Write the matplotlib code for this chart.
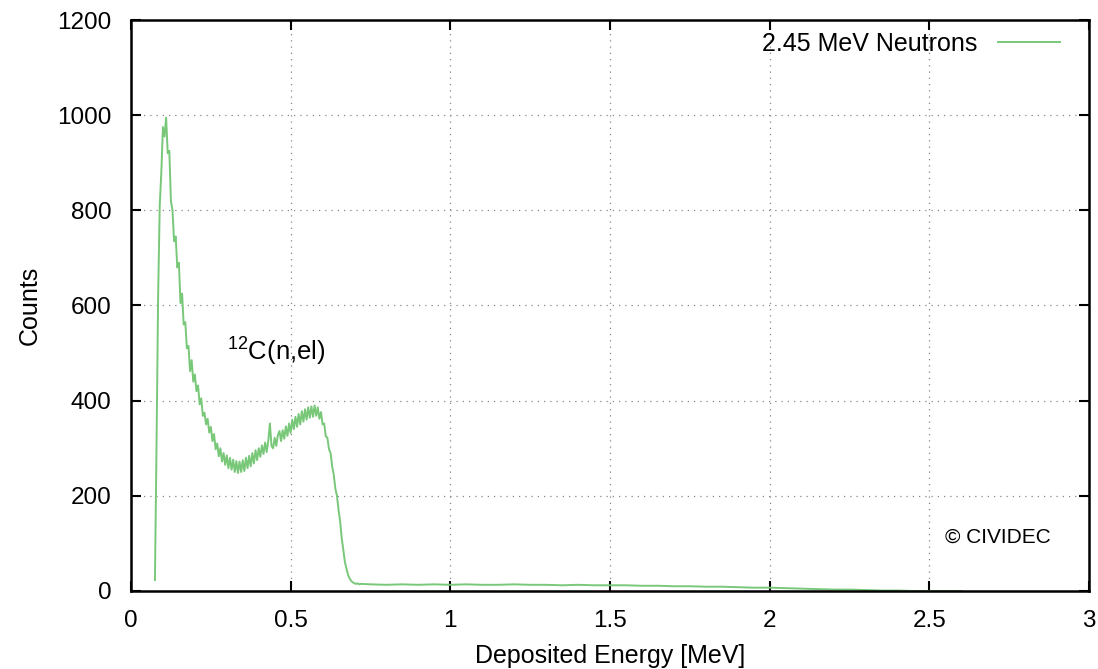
import numpy as np
import matplotlib
matplotlib.use("Agg")
import matplotlib.pyplot as plt

# counts per 0.005 MeV bin, starting at 0.075 MeV
counts_main = [
    23, 310, 620, 810, 880, 975, 955, 995, 920, 925,
    820, 800, 735, 745, 680, 690, 605, 625, 560, 565,
    510, 515, 462, 485, 440, 455, 420, 432, 392, 405,
    368, 375, 350, 362, 333, 345, 315, 330, 298, 310,
    283, 300, 272, 290, 265, 285, 258, 280, 255, 276,
    250, 273, 248, 272, 250, 275, 252, 280, 258, 284,
    262, 290, 268, 296, 275, 300, 282, 306, 288, 312,
    292, 316, 352, 305, 300, 322, 305, 328, 336, 315,
    338, 320, 346, 326, 352, 332, 360, 340, 366, 345,
    372, 350, 378, 356, 382, 360, 386, 364, 388, 366,
    390, 368, 386, 362, 376, 350, 352, 325, 322, 298,
    290, 262, 244, 215, 200, 170, 146, 110, 86, 60,
    46, 33, 26, 21, 18, 16, 15, 16, 14, 15,
]
main_start = 0.075
main_step = 0.005

# flat tail, coarser sampling
energy_tail = [0.75, 0.80, 0.85, 0.90, 0.95, 1.00, 1.05, 1.10, 1.15, 1.20,
               1.25, 1.30, 1.35, 1.40, 1.45, 1.50, 1.55, 1.60, 1.65, 1.70,
               1.75, 1.80, 1.85, 1.90, 1.95, 2.00, 2.05, 2.10, 2.15, 2.20,
               2.25, 2.30, 2.35, 2.40, 2.45, 2.50, 2.55, 2.60]
counts_tail = [14, 13, 14, 13, 14, 13, 14, 13, 13, 14,
               13, 13, 12, 13, 12, 12, 12, 11, 11, 10,
               10, 9, 9, 8, 7, 7, 6, 5, 4, 3,
               3, 2, 1, 1, 0, 0, 0, 0]

xticks = [0, 0.5, 1, 1.5, 2, 2.5, 3]
xticklabels = ["0", "0.5", "1", "1.5", "2", "2.5", "3"]
yticks = [0, 200, 400, 600, 800, 1000, 1200]

plt.rcParams["font.family"] = ["Liberation Sans", "DejaVu Sans"]
plt.rcParams["mathtext.default"] = "regular"


def draw():
    energy_main = main_start + main_step * np.arange(len(counts_main))
    energy = np.concatenate([energy_main, energy_tail])
    counts = np.concatenate([counts_main, counts_tail])

    fig = plt.figure(figsize=(10.98, 6.69), dpi=100)
    ax = fig.add_axes([0.1193, 0.1166, 0.8725, 0.8535])
    ax.plot(energy, counts, color="#79c879", lw=1.4, label="2.45 MeV Neutrons")

    ax.set_xlim(0, 3)
    ax.set_ylim(0, 1200)
    ax.set_xticks(xticks)
    ax.set_xticklabels(xticklabels)
    ax.set_yticks(yticks)
    ax.tick_params(direction="in", length=7, width=1.5, top=True, right=True,
                   labelsize=17.5)
    ax.tick_params(axis="y", pad=14)
    ax.tick_params(axis="x", pad=14)
    for s in ax.spines.values():
        s.set_linewidth(1.8)
    ax.grid(True, color="#888888", linestyle=(0, (1, 4)), lw=0.9)

    ax.set_xlabel("Deposited Energy [MeV]", fontsize=18, labelpad=8)
    ax.set_ylabel("Counts", fontsize=18, labelpad=11)

    ax.text(0.30, 502, "$^{12}$C(n,el)", fontsize=18.5, ha="left", va="center")
    ax.text(2.55, 113, "© CIVIDEC", fontsize=15, ha="left", va="center")

    ax.legend(loc="upper right", frameon=False, fontsize=18, markerfirst=False,
              handlelength=2.5, handletextpad=0.8, borderaxespad=0.2,
              bbox_to_anchor=(0.9857, 1.006))
    fig.savefig("out.png", dpi=100)


def main():
    draw()


if __name__ == "__main__":
    main()
